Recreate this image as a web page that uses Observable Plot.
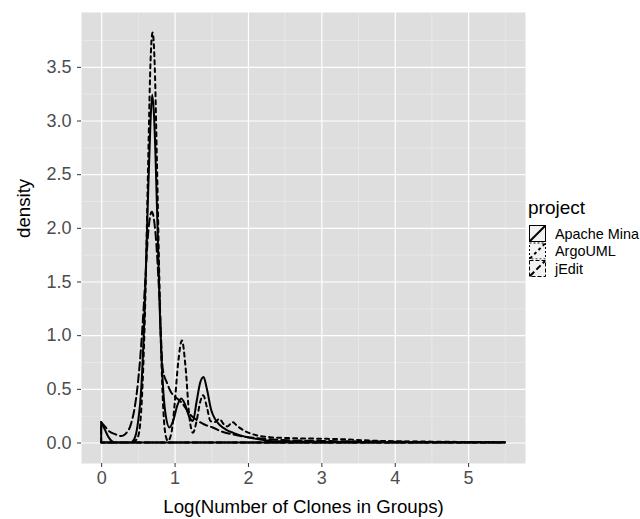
<!DOCTYPE html>
<html>
<head>
<meta charset="utf-8">
<script src="https://cdn.jsdelivr.net/npm/d3@7"></script>
<script src="https://cdn.jsdelivr.net/npm/@observablehq/plot@0.6"></script>
<style>
  html, body { margin: 0; padding: 0; background: #fff; }
  #wrap { position: relative; width: 640px; height: 519px; font-family: "Liberation Sans", Arial, sans-serif; }
  #legend { position: absolute; left: 0; top: 0; pointer-events: none; }
</style>
</head>
<body>
<div id="wrap"></div>
<script>
// ---- data ----
const projects = ["Apache Mina", "ArgoUML", "jEdit"];
const dashes = ["none", "4,4", "8,4"];

const minaX = [0, 0.05, 0.1, 0.15, 0.2, 0.3, 0.4, 0.45, 0.5, 0.55, 0.59, 0.63, 0.67, 0.695, 0.72, 0.76, 0.8, 0.84, 0.88, 0.93, 0.98, 1.04, 1.09, 1.14, 1.2, 1.25, 1.3, 1.35, 1.395, 1.44, 1.5, 1.55, 1.62, 1.7, 1.8, 1.98, 2.15, 2.3, 2.6, 3.0, 3.5, 4.0, 4.5, 5.0, 5.5];
const minaY = [0.19, 0.12, 0.05, 0.01, 0.0, 0.0, 0.0, 0.03, 0.18, 0.55, 1.2, 2.1, 2.95, 3.24, 3.05, 2.2, 1.2, 0.55, 0.25, 0.14, 0.2, 0.35, 0.41, 0.36, 0.24, 0.2, 0.38, 0.56, 0.61, 0.5, 0.3, 0.22, 0.16, 0.12, 0.09, 0.05, 0.03, 0.015, 0.01, 0.006, 0.004, 0.003, 0.002, 0.001, 0.001];

const argoX = [0, 0.2, 0.4, 0.45, 0.5, 0.55, 0.6, 0.64, 0.67, 0.70, 0.73, 0.76, 0.8, 0.84, 0.88, 0.91, 0.96, 1.0, 1.05, 1.1, 1.15, 1.2, 1.25, 1.3, 1.35, 1.39, 1.44, 1.49, 1.55, 1.61, 1.67, 1.72, 1.79, 1.86, 1.95, 2.1, 2.3, 2.6, 3.0, 3.3, 3.6, 4.0, 4.5, 5.0, 5.5];
const argoY = [0.0, 0.0, 0.0, 0.01, 0.05, 0.35, 1.3, 2.6, 3.5, 3.82, 3.5, 2.6, 1.3, 0.4, 0.06, 0.015, 0.1, 0.35, 0.75, 0.95, 0.7, 0.25, 0.09, 0.2, 0.38, 0.44, 0.33, 0.2, 0.19, 0.22, 0.17, 0.15, 0.19, 0.15, 0.11, 0.07, 0.05, 0.04, 0.035, 0.03, 0.02, 0.012, 0.008, 0.005, 0.003];

const jeditX = [0, 0.05, 0.1, 0.2, 0.27, 0.33, 0.4, 0.45, 0.5, 0.55, 0.6, 0.64, 0.69, 0.74, 0.79, 0.84, 0.9, 0.95, 1.0, 1.05, 1.1, 1.2, 1.3, 1.4, 1.52, 1.65, 1.8, 1.9, 2.0, 2.3, 2.6, 3.0, 3.5, 4.0, 4.5, 5.0, 5.5];
const jeditY = [0.19, 0.15, 0.11, 0.075, 0.06, 0.08, 0.16, 0.3, 0.55, 0.95, 1.5, 1.95, 2.15, 1.95, 1.4, 0.68, 0.55, 0.47, 0.43, 0.4, 0.37, 0.27, 0.21, 0.17, 0.14, 0.1, 0.075, 0.06, 0.05, 0.03, 0.02, 0.015, 0.01, 0.008, 0.005, 0.003, 0.002];

const xTicks = [0, 1, 2, 3, 4, 5];
const xMinor = [0.5, 1.5, 2.5, 3.5, 4.5, 5.5];
const yTicks = [0, 0.5, 1, 1.5, 2, 2.5, 3, 3.5];
const yMinor = [0.25, 0.75, 1.25, 1.75, 2.25, 2.75, 3.25, 3.75];
const xTitle = "Log(Number of Clones in Groups)";
const yTitle = "density";
const legendTitle = "project";

// ---- build table ----
const series = [[minaX, minaY], [argoX, argoY], [jeditX, jeditY]];
const rows = series.flatMap(([xs, ys], i) => xs.map((x, j) => ({project: projects[i], x, y: ys[j]})));

const font = "Liberation Sans, Arial, sans-serif";
const chart = Plot.plot({
  width: 640,
  height: 519,
  marginLeft: 81,
  marginRight: 115,
  marginTop: 12,
  marginBottom: 56,
  style: {fontFamily: font, background: "white"},
  x: {domain: [-0.275, 5.775]},
  y: {domain: [-0.191, 4.011]},
  marks: [
    Plot.frame({fill: "#DEDEDE", stroke: null}),
    Plot.ruleX(xMinor, {stroke: "#EEEEEE", strokeWidth: 0.6}),
    Plot.ruleY(yMinor, {stroke: "#EEEEEE", strokeWidth: 0.6}),
    Plot.ruleX(xTicks, {stroke: "white", strokeWidth: 1.2}),
    Plot.ruleY(yTicks, {stroke: "white", strokeWidth: 1.2}),
    ...projects.map((p, i) => Plot.areaY(rows.filter(d => d.project === p), {
      x: "x", y: "y", fill: "none", stroke: "black", strokeWidth: 2,
      strokeDasharray: dashes[i] === "none" ? null : dashes[i],
      curve: "monotone-x"
    })),
    Plot.axisX(xTicks, {tickSize: 4, tickPadding: 4, fontSize: 18, color: "#4D4D4D", stroke: "#333", label: null, tickFormat: d3.format("d")}),
    Plot.axisY(yTicks, {tickSize: 4, tickPadding: 6, fontSize: 18, color: "#4D4D4D", stroke: "#333", label: null, tickFormat: d3.format(".1f")}),
    Plot.text([xTitle], {frameAnchor: "bottom", dy: 49, fontSize: 18.7, fill: "black", text: d => d}),
    Plot.text([yTitle], {frameAnchor: "left", dx: -57, rotate: -90, fontSize: 18.7, fill: "black", text: d => d})
  ]
});
const wrap = document.getElementById("wrap");
wrap.appendChild(chart);

// ---- legend ----
const lg = d3.select(wrap).append("svg").attr("id", "legend").attr("width", 640).attr("height", 519)
  .style("font-family", font);
lg.append("text").attr("x", 528).attr("y", 214).attr("font-size", 19).text(legendTitle);
projects.forEach((p, i) => {
  const y0 = 225 + i * 17.5;
  const g = lg.append("g");
  g.append("rect").attr("x", 529).attr("y", y0).attr("width", 17).attr("height", 17)
    .attr("fill", "#F2F2F2").attr("stroke", "white").attr("stroke-width", 1);
  g.append("rect").attr("x", 529.5).attr("y", y0 + 0.5).attr("width", 16).attr("height", 16)
    .attr("fill", "none").attr("stroke", "black").attr("stroke-width", 1)
    .attr("stroke-dasharray", dashes[i] === "none" ? null : (i === 1 ? "2,2" : "4,2"));
  g.append("line").attr("x1", 530).attr("y1", y0 + 16).attr("x2", 545).attr("y2", y0 + 1)
    .attr("stroke", "black").attr("stroke-width", 2)
    .attr("stroke-dasharray", dashes[i] === "none" ? null : (i === 1 ? "3,3" : "6,3"));
  g.append("text").attr("x", 555).attr("y", y0 + 8.5).attr("dy", "0.35em").attr("font-size", 14.4).text(p);
});
</script>
</body>
</html>
